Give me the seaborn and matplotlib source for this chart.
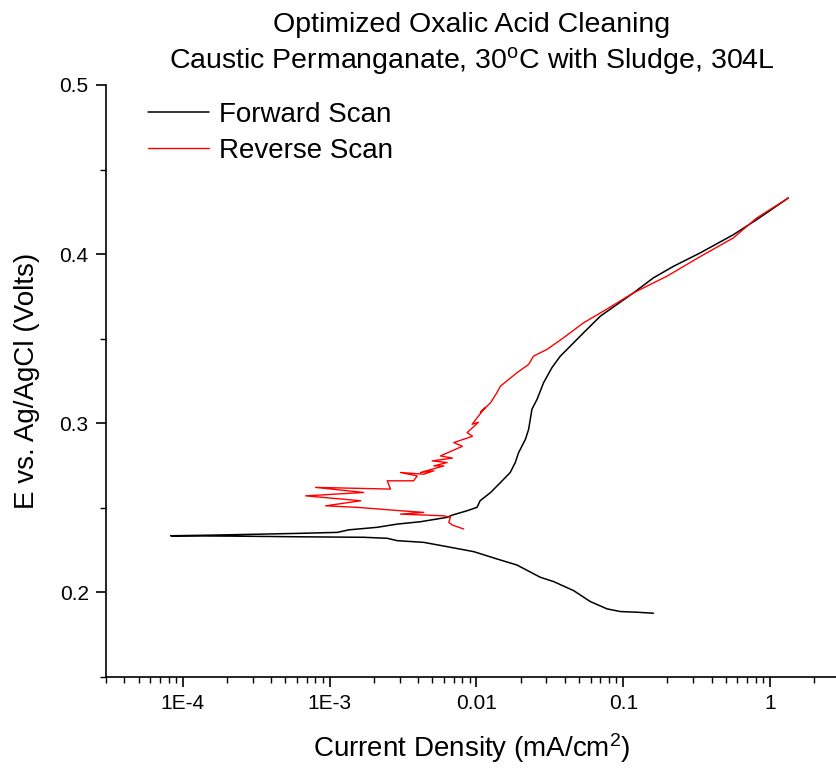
import numpy as np
import pandas as pd
import matplotlib
matplotlib.use("Agg")
import matplotlib.pyplot as plt
from matplotlib.ticker import LogLocator, FixedLocator, MultipleLocator, FixedFormatter
import seaborn as sns

# Forward scan: cathodic end -> OCP -> anodic end
fwd_current = [0.1607, 0.124, 0.0954, 0.0775, 0.0597, 0.0459, 0.0336, 0.0272,
               0.0189, 0.0138, 0.0096, 0.00665, 0.00438, 0.00289, 0.00247,
               0.00171, 0.000603, 0.000212, 8.28e-5,
               0.000163, 0.000603, 0.00113, 0.00135, 0.00211, 0.00289, 0.00416,
               0.00632, 0.00684, 0.00865, 0.0101, 0.0106, 0.0125, 0.0146, 0.0170,
               0.0184, 0.0194, 0.0216, 0.0227, 0.0239, 0.0259, 0.0287, 0.0327,
               0.0373, 0.0436, 0.0537, 0.0698, 0.0906, 0.1175, 0.1607, 0.220,
               0.334, 0.563, 0.812, 1.332]
fwd_potential = [0.1877, 0.1883, 0.1887, 0.1903, 0.1946, 0.2011, 0.2064, 0.2090,
                 0.2162, 0.2198, 0.2241, 0.2267, 0.2296, 0.2306, 0.2320,
                 0.2326, 0.2329, 0.2333, 0.2335,
                 0.2339, 0.2349, 0.2355, 0.2370, 0.2385, 0.2404, 0.2418,
                 0.2444, 0.2457, 0.2483, 0.2503, 0.2542, 0.2591, 0.2650, 0.2709,
                 0.2768, 0.2827, 0.2906, 0.2965, 0.3083, 0.3142, 0.3240, 0.3329,
                 0.3397, 0.3456, 0.3535, 0.3633, 0.3702, 0.3771, 0.3860, 0.3928,
                 0.4007, 0.4115, 0.4204, 0.4332]

# Reverse scan: anodic end -> back down
rev_current = [1.332, 0.812, 0.563, 0.334, 0.198, 0.1175, 0.0734, 0.0537,
               0.0393, 0.0303, 0.0245, 0.0227, 0.0189, 0.0146, 0.0138, 0.0125,
               0.01064, 0.01150, 0.00935, 0.01033, 0.00865, 0.0094, 0.00701,
               0.00803, 0.00569, 0.00687, 0.00500, 0.00632, 0.00513, 0.0060,
               0.00416, 0.00513, 0.00438, 0.00304, 0.00395, 0.00374, 0.00247,
               0.0026, 0.000803, 0.00171, 0.000687, 0.00163, 0.00094, 0.00154,
               0.00304, 0.00438, 0.00304, 0.0060, 0.00665, 0.00649, 0.00687,
               0.0082]
rev_potential = [0.4332, 0.4214, 0.4096, 0.3985, 0.3869, 0.3771, 0.3663, 0.3594,
                 0.3506, 0.3437, 0.3397, 0.3348, 0.3299, 0.3220, 0.3181, 0.3122,
                 0.3063, 0.3094, 0.2994, 0.3006, 0.2945, 0.2923, 0.2886,
                 0.2864, 0.2807, 0.2794, 0.2778, 0.2768, 0.2748, 0.2748,
                 0.2709, 0.2719, 0.2699, 0.2709, 0.2689, 0.2660, 0.2660,
                 0.2611, 0.2621, 0.2591, 0.2571, 0.2542, 0.2512, 0.2503,
                 0.2483, 0.2473, 0.2463, 0.2453, 0.2444, 0.2414, 0.2398,
                 0.2375]

x_ticks = [1e-4, 1e-3, 1e-2, 1e-1, 1]
x_tick_labels = ["1E-4", "1E-3", "0.01", "0.1", "1"]
y_ticks = [0.2, 0.3, 0.4, 0.5]
y_tick_labels = ["0.2", "0.3", "0.4", "0.5"]


def main():
    sns.set_style("ticks", {"text.color": "black", "axes.labelcolor": "black",
                            "xtick.color": "black", "ytick.color": "black",
                            "axes.edgecolor": "black"})
    plt.rcParams['font.family'] = ['Liberation Sans', 'DejaVu Sans']
    plt.rcParams['mathtext.fontset'] = 'custom'
    plt.rcParams['mathtext.rm'] = 'Liberation Sans'
    plt.rcParams['mathtext.it'] = 'Liberation Sans:italic'

    fwd = pd.DataFrame({'current': fwd_current, 'potential': fwd_potential})
    rev = pd.DataFrame({'current': rev_current, 'potential': rev_potential})

    fig = plt.figure(figsize=(8.37, 7.75), dpi=100)
    ax = fig.add_axes([106 / 837, 1 - 677 / 775, 731 / 837, 592 / 775])

    sns.lineplot(data=fwd, x='current', y='potential', sort=False,
                 estimator=None, color='black', linewidth=1.1,
                 label='Forward Scan', ax=ax)
    sns.lineplot(data=rev, x='current', y='potential', sort=False,
                 estimator=None, color='#ff0000', linewidth=1.0,
                 label='Reverse Scan', ax=ax)

    ax.set_xscale('log')
    ax.set_xlim(3.0e-5, 2.86)
    ax.set_ylim(0.15, 0.5)

    ax.xaxis.set_major_locator(FixedLocator(x_ticks))
    ax.xaxis.set_major_formatter(FixedFormatter(x_tick_labels))
    ax.xaxis.set_minor_locator(LogLocator(base=10, subs=np.arange(2, 10)))
    ax.yaxis.set_major_locator(FixedLocator(y_ticks))
    ax.yaxis.set_major_formatter(FixedFormatter(y_tick_labels))
    ax.yaxis.set_minor_locator(MultipleLocator(0.05))

    ax.tick_params(which='major', direction='out', length=7.5, width=1.2,
                   labelsize=15, pad=5, color='black', labelcolor='black')
    ax.tick_params(which='minor', direction='out', length=4, width=1.0,
                   color='black')
    ax.tick_params(axis='x', which='minor', labelbottom=False)

    for side in ['top', 'right']:
        ax.spines[side].set_visible(False)
    for side in ['left', 'bottom']:
        ax.spines[side].set_linewidth(1.2)
        ax.spines[side].set_color('black')

    ax.set_xlabel("Current Density (mA/cm$^2$)", fontsize=20, labelpad=13)
    ax.set_ylabel("E vs. Ag/AgCl (Volts)", fontsize=20, labelpad=14)
    ax.set_title("Optimized Oxalic Acid Cleaning\n"
                 "Caustic Permanganate, 30$^{\\mathrm{o}}$C with Sludge, 304L",
                 fontsize=20.5, linespacing=1.3, pad=12)

    ax.legend(loc='upper left', bbox_to_anchor=(0.0575, 0.972), frameon=False,
              fontsize=20, handlelength=2.2, handletextpad=0.36,
              labelspacing=0.36, borderpad=0, borderaxespad=0)

    fig.savefig('out.png', dpi=100, facecolor='white')


if __name__ == "__main__":
    main()
